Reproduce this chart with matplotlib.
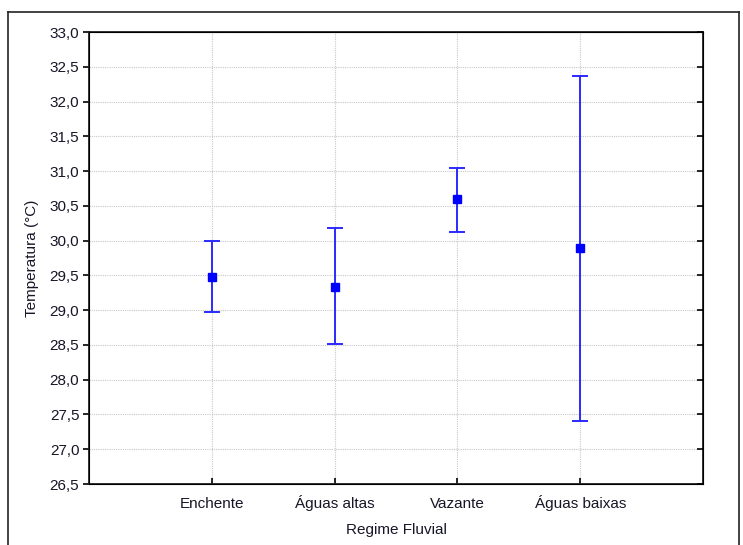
import matplotlib.pyplot as plt
from matplotlib.lines import Line2D

plt.rcParams['font.family'] = ['Liberation Sans', 'DejaVu Sans']

categorias = ["Enchente", "Águas altas", "Vazante", "Águas baixas"]
media = [29.48, 29.34, 30.60, 29.89]
superior = [29.99, 30.18, 31.05, 32.37]
inferior = [28.97, 28.51, 30.13, 27.41]

x = [1, 2, 3, 4]
err_low = [m - lo for m, lo in zip(media, inferior)]
err_high = [hi - m for m, hi in zip(media, superior)]
yticks = [26.5 + 0.5 * i for i in range(14)]

txt = "#161628"
fs = 11

fig = plt.figure(figsize=(7.43, 5.45), dpi=100)
ax = fig.add_axes([89 / 743, 1 - 484 / 545, (703 - 89) / 743, (484 - 32) / 545])

ax.errorbar(x, media, yerr=[err_low, err_high], fmt="s", color="#0000ff",
            ecolor="#2a2aff", elinewidth=1.4, capsize=6, capthick=1.4,
            markersize=5.5, zorder=3)

ax.set_xlim(0, 5)
ax.set_ylim(26.5, 33.0)
ax.set_yticks(yticks)
ax.set_yticklabels([f"{v:.1f}".replace(".", ",") for v in yticks])
ax.set_xticks(x)
ax.set_xticklabels(categorias, va="baseline")

ax.grid(True, linestyle=(0, (1, 1)), color="#c8c8c8", linewidth=0.8)
ax.set_axisbelow(True)

for s in ax.spines.values():
    s.set_linewidth(1.3)
    s.set_color("#222222")

ax.tick_params(axis="y", direction="out", length=4, width=1.2, labelsize=fs,
               labelcolor=txt, pad=3)
ax.tick_params(axis="x", direction="in", length=4, width=1.2, labelsize=fs,
               labelcolor=txt, pad=17)

# marcas internas no eixo direito
ax2 = ax.twinx()
ax2.set_ylim(ax.get_ylim())
ax2.set_yticks(yticks)
ax2.tick_params(axis="y", direction="in", length=4, width=1.2, labelright=False)

ax.set_xlabel("Regime Fluvial", fontsize=fs, color=txt, labelpad=9)
ax.set_ylabel("Temperatura (°C)", fontsize=fs, color=txt, labelpad=8)

# moldura externa da figura
W, H = 743, 545
fig.add_artist(Line2D([8 / W, 8 / W], [0, 1 - 12 / H], color="#222222", lw=1.2,
                      transform=fig.transFigure))
fig.add_artist(Line2D([8 / W, 739 / W], [1 - 12 / H, 1 - 12 / H], color="#222222",
                      lw=1.2, transform=fig.transFigure))
fig.add_artist(Line2D([739 / W, 739 / W], [0, 1 - 12 / H], color="#222222", lw=1.2,
                      transform=fig.transFigure))

fig.savefig("out.png", dpi=100)
